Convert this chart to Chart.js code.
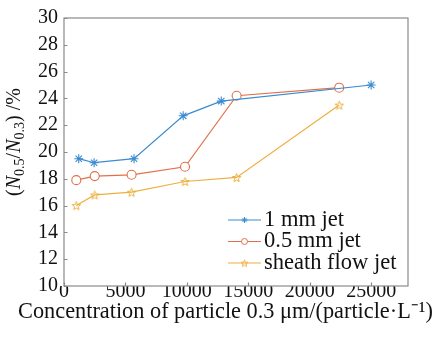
<!DOCTYPE html>
<html>
<head>
<meta charset="utf-8">
<script src="https://cdn.jsdelivr.net/npm/chart.js@4/dist/chart.umd.min.js"></script>
<style>
html,body{margin:0;padding:0;background:#fff;}
#wrap{position:relative;width:444px;height:340px;}
</style>
</head>
<body>
<div id="wrap"><canvas id="c" width="444" height="340"></canvas></div>
<script>
// ---- data ----
const seriesNames = ["1 mm jet", "0.5 mm jet", "sheath flow jet"];
const jet1X = [1200, 2450, 5700, 9700, 12800, 25000];
const jet1Y = [19.5, 19.2, 19.5, 22.7, 23.8, 25.0];
const jet05X = [1000, 2500, 5500, 9850, 14050, 22400];
const jet05Y = [17.9, 18.2, 18.3, 18.9, 24.2, 24.8];
const sheathX = [1000, 2500, 5500, 9850, 14050, 22400];
const sheathY = [16.0, 16.8, 17.0, 17.8, 18.1, 23.5];
const xTicks = [0, 5000, 10000, 15000, 20000, 25000];
const yTicks = [10, 12, 14, 16, 18, 20, 22, 24, 26, 28, 30];
const xTitle = "Concentration of particle 0.3 \u03bcm/(particle\u00b7L\u207b\u00b9)";

const FONT = "Liberation Serif";
Chart.defaults.font.family = FONT;
const colors = ['#3a8bd0', '#e0704a', '#edb040'];

function pts(xs, ys){ return xs.map((x,i)=>({x:x, y:ys[i]})); }

function pentagram(size, color){
  const cv = document.createElement('canvas');
  cv.width = size; cv.height = size;
  const g = cv.getContext('2d');
  const cx = size/2, cy = size/2 + 0.5, R = size/2 - 1, r = R*0.42;
  g.beginPath();
  for (let i=0;i<10;i++){
    const a = -Math.PI/2 + i*Math.PI/5;
    const rr = i%2===0 ? R : r;
    const px = cx + rr*Math.cos(a), py = cy + rr*Math.sin(a);
    if(i===0) g.moveTo(px,py); else g.lineTo(px,py);
  }
  g.closePath();
  g.strokeStyle = color; g.lineWidth = 1;
  g.stroke();
  return cv;
}
const starImg = pentagram(11, colors[2]);
const starImgSmall = pentagram(9, colors[2]);

const frame = {
  id:'frame',
  afterDraw(chart){
    const {ctx, chartArea:a, scales} = chart;
    ctx.save();
    // box
    ctx.strokeStyle = '#8a8a8a';
    ctx.lineWidth = 1.2;
    ctx.strokeRect(a.left, a.top, a.right-a.left, a.bottom-a.top);
    // inward ticks
    ctx.beginPath();
    xTicks.forEach(v=>{
      const px = Math.round(scales.x.getPixelForValue(v))+0.5;
      ctx.moveTo(px, a.bottom); ctx.lineTo(px, a.bottom-3.5);
    });
    yTicks.forEach(v=>{
      const py = Math.round(scales.y.getPixelForValue(v))+0.5;
      ctx.moveTo(a.left, py); ctx.lineTo(a.left+3.5, py);
    });
    ctx.stroke();

    // x title
    ctx.fillStyle = '#111';
    ctx.font = "22.3px " + FONT;
    ctx.textAlign = 'center';
    ctx.textBaseline = 'middle';
    ctx.fillText(xTitle, 225.5, 312);

    // y title with subscripts
    const parts = [
      {t:'(', f:"20px "+FONT, dy:0},
      {t:'N', f:"italic 20px "+FONT, dy:0},
      {t:'0.5', f:"14px "+FONT, dy:5},
      {t:'/', f:"20px "+FONT, dy:0},
      {t:'N', f:"italic 20px "+FONT, dy:0},
      {t:'0.3', f:"14px "+FONT, dy:5},
      {t:') /%', f:"20px "+FONT, dy:0}
    ];
    let total = 0;
    parts.forEach(p=>{ ctx.font = p.f; p.w = ctx.measureText(p.t).width; total += p.w; });
    ctx.translate(15, 142);
    ctx.rotate(-Math.PI/2);
    ctx.textAlign = 'left';
    ctx.textBaseline = 'middle';
    let x = -total/2;
    parts.forEach(p=>{ ctx.font = p.f; ctx.fillText(p.t, x, p.dy); x += p.w; });
    ctx.setTransform(1,0,0,1,0,0);

    // legend
    const ly = [220, 241.5, 263];
    chart.data.datasets.forEach((ds,i)=>{
      const y = ly[i];
      ctx.strokeStyle = ds.borderColor;
      ctx.lineWidth = 1.2;
      ctx.beginPath(); ctx.moveTo(228, y); ctx.lineTo(261, y); ctx.stroke();
      const cx = 244.5;
      if (i===0){
        ctx.lineWidth = 1;
        ctx.beginPath();
        for (let k=0;k<4;k++){
          const ang = k*Math.PI/4;
          ctx.moveTo(cx-3*Math.cos(ang), y-3*Math.sin(ang));
          ctx.lineTo(cx+3*Math.cos(ang), y+3*Math.sin(ang));
        }
        ctx.stroke();
      } else if (i===1){
        ctx.lineWidth = 1;
        ctx.fillStyle = '#fff';
        ctx.beginPath(); ctx.arc(cx, y, 3, 0, Math.PI*2); ctx.fill(); ctx.stroke();
      } else {
        ctx.drawImage(starImgSmall, cx-4.5, y-4.5);
      }
      ctx.fillStyle = '#111';
      ctx.font = "22.5px " + FONT;
      ctx.textAlign = 'left';
      ctx.textBaseline = 'middle';
      ctx.fillText(ds.label, 264, y);
    });
    ctx.restore();
  }
};

new Chart(document.getElementById('c'), {
  type: 'line',
  data: {
    datasets: [
      {label: seriesNames[0], data: pts(jet1X, jet1Y), borderColor: colors[0], backgroundColor: colors[0],
       borderWidth: 1.2, pointStyle: 'star', pointRadius: 4.5, pointBorderWidth: 1.1, pointBorderColor: colors[0]},
      {label: seriesNames[1], data: pts(jet05X, jet05Y), borderColor: colors[1], backgroundColor: '#fff',
       borderWidth: 1.2, pointStyle: 'circle', pointRadius: 4.5, pointBorderWidth: 1.1, pointBorderColor: colors[1]},
      {label: seriesNames[2], data: pts(sheathX, sheathY), borderColor: colors[2], backgroundColor: colors[2],
       borderWidth: 1.2, pointStyle: starImg, pointRadius: 5}
    ]
  },
  options: {
    responsive: false,
    animation: false,
    layout: {padding: {left: 0, top: 15, right: 36, bottom: 0}},
    plugins: {legend: {display: false}, tooltip: {enabled: false}},
    scales: {
      x: {
        type: 'linear', min: 0, max: 28000,
        afterBuildTicks(s){ s.ticks = xTicks.map(v=>({value:v})); },
        afterFit(s){ s.height = 54; },
        grid: {display: false, drawTicks: false},
        border: {display: false},
        ticks: {font: {family: FONT, size: 20, lineHeight: 1}, color: '#111', padding: -4, maxRotation: 0, autoSkip: false,
                callback: v => String(v)}
      },
      y: {
        type: 'linear', min: 10, max: 30,
        afterBuildTicks(s){ s.ticks = yTicks.map(v=>({value:v})); },
        afterFit(s){ s.width = 64; },
        grid: {display: false, drawTicks: false},
        border: {display: false},
        ticks: {font: {family: FONT, size: 20}, color: '#111', padding: 6, autoSkip: false,
                callback: v => String(v)}
      }
    }
  },
  plugins: [frame]
});
</script>
</body>
</html>
